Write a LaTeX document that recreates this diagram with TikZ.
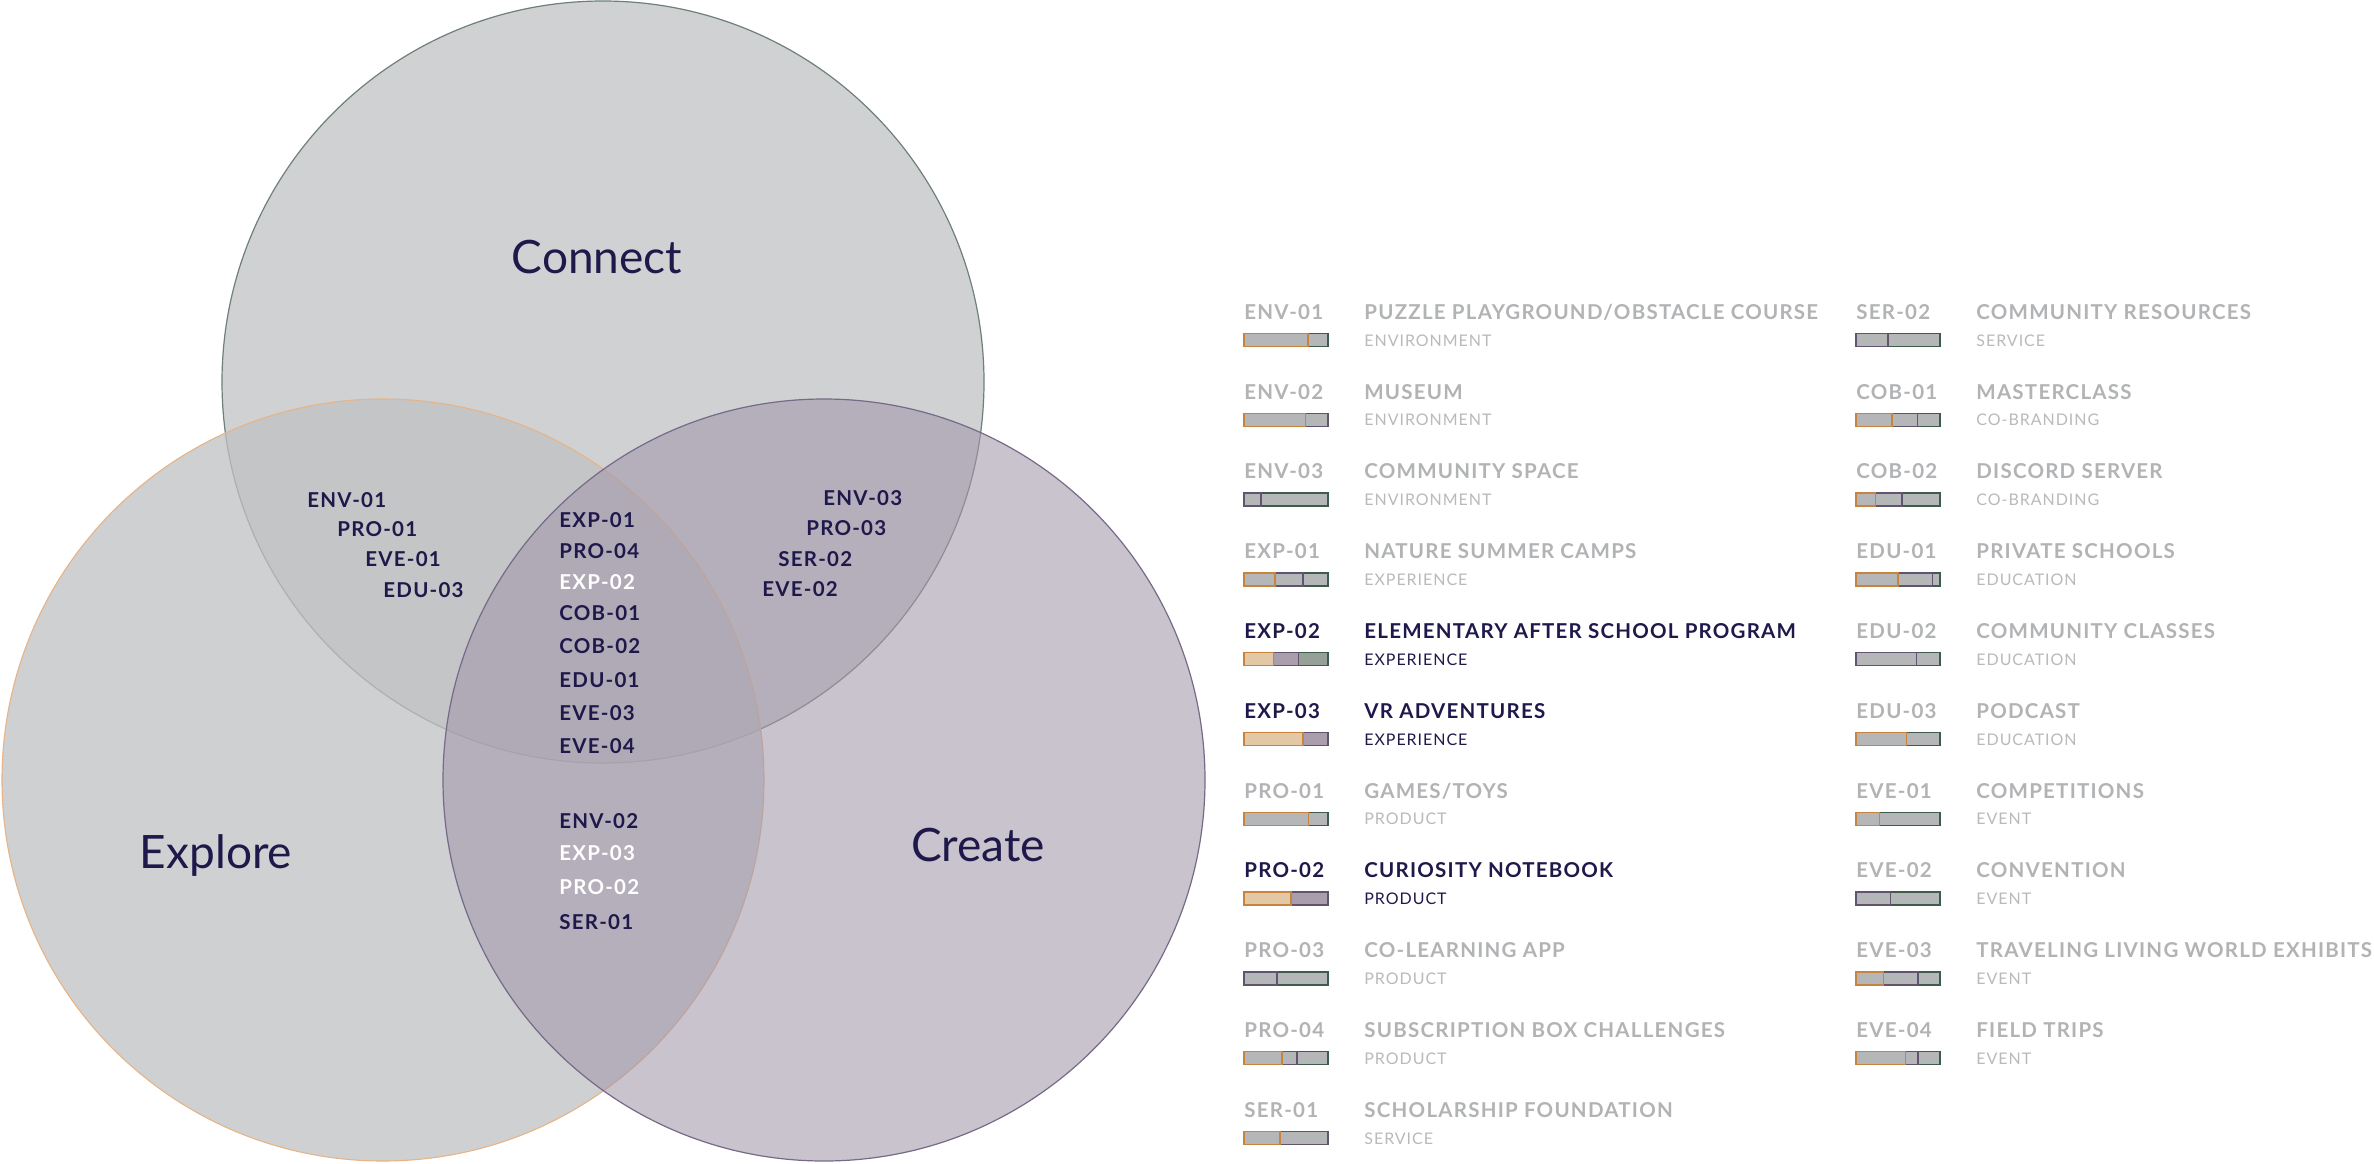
\documentclass[tikz,border=0pt]{standalone}
\usepackage{fontspec}
\setmainfont{Lato}
\newfontfamily\codefont[LetterSpace=6]{Lato}
\newfontfamily\catfont[LetterSpace=6]{Lato}
\newfontfamily\titlefont{Lato}

\definecolor{navy}{RGB}{30,25,74}
\definecolor{lgrey}{RGB}{178,179,181}
\definecolor{cgrey}{RGB}{186,186,188}
\definecolor{connfill}{RGB}{208,209,211}
\definecolor{connline}{RGB}{110,128,120}
\definecolor{explfill}{RGB}{192,193,196}
\definecolor{explline}{RGB}{230,180,134}
\definecolor{creafill}{RGB}{162,152,170}
\definecolor{crealine}{RGB}{118,106,136}
\definecolor{barfill}{RGB}{181,182,184}
\definecolor{barE}{RGB}{200,132,60}
\definecolor{barC}{RGB}{96,84,110}
\definecolor{barN}{RGB}{62,92,76}
\definecolor{hlE}{RGB}{227,200,166}
\definecolor{hlC}{RGB}{170,158,172}
\definecolor{hlN}{RGB}{150,160,152}

% bar: #1 x, #2 y centre, #3 end of orange part, #4 end of purple part, #5 n/h
\newcommand\lbar[5]{%
  \ifdim #4pt<1pt \draw[segN#5] ({#1+84*#4},{#2-6.5}) rectangle ({#1+84},{#2+6.5}); \fi
  \ifdim #4pt>#3pt \draw[segC#5] ({#1+84*#3},{#2-6.5}) rectangle ({#1+84*#4},{#2+6.5}); \fi
  \ifdim #3pt>0pt \draw[segE#5] ({#1},{#2-6.5}) rectangle ({#1+84*#3},{#2+6.5}); \fi
}
% legend row: #1 x, #2 y, #3 code, #4 name, #5 category, #6 a, #7 b, #8 n/h
\newcommand\legrow[8]{%
  \node[codeT#8] (L-#3) at ({#1},{#2+7.3}) {#3};
  \node[codeT#8] (N-#3) at ({#1+120},{#2+7.3}) {#4};
  \node[catT#8] (K-#3) at ({#1+120},{#2+28+6}) {#5};
  \lbar{#1}{#2+28}{#6}{#7}{#8}
}

\begin{document}
\begin{tikzpicture}[x=0.5pt,y=-0.5pt,
  codeTn/.style={anchor=base west, inner sep=0pt, font=\codefont\bfseries\fontsize{10.25}{12}\selectfont, text=lgrey},
  codeTh/.style={codeTn, text=navy},
  catTn/.style={anchor=base west, inner sep=0pt, font=\catfont\fontsize{8}{10}\selectfont, text=cgrey},
  catTh/.style={catTn, text=navy},
  vlab/.style={anchor=base west, inner sep=0pt, font=\codefont\bfseries\fontsize{10.25}{12}\selectfont, text=navy},
  vlabw/.style={vlab, text=white},
  ttl/.style={inner sep=0pt, font=\titlefont\fontsize{23}{26}\selectfont, text=navy},
  segEn/.style={fill=barfill, draw=barE, line width=0.75pt},
  segCn/.style={fill=barfill, draw=barC, line width=0.75pt},
  segNn/.style={fill=barfill, draw=barN, line width=0.75pt},
  segEh/.style={fill=hlE, draw=barE, line width=0.75pt},
  segCh/.style={fill=hlC, draw=barC, line width=0.75pt},
  segNh/.style={fill=hlN, draw=barN, line width=0.75pt},
]
\useasboundingbox (0,0) rectangle (2374,1163);
\fill[white] (0,0) rectangle (2374,1163);

% circles
\draw[fill=connfill, draw=connline, line width=0.6pt] (603,382) circle[radius=381];
\draw[fill=explfill, fill opacity=0.75, draw=explline, line width=0.55pt] (383,780) circle[radius=381];
\draw[fill=creafill, fill opacity=0.58, draw=crealine, line width=0.6pt] (824,780) circle[radius=381];

% titles
\node[ttl] (tConnect) at (597,257) {Connect};
\node[ttl] (tExplore) at (216,855) {Explore};
\node[ttl] (tCreate) at (978,845) {Create};

% Venn labels: connect & explore
\node[vlab] (V-ENV-01) at (307,507.3) {ENV-01};
\node[vlab] (V-PRO-01) at (337,536.3) {PRO-01};
\node[vlab] (V-EVE-01) at (365,566.3) {EVE-01};
\node[vlab] (V-EDU-03) at (383,597.3) {EDU-03};
% centre
\node[vlab] (V-EXP-01) at (559,527.3) {EXP-01};
\node[vlab] (V-PRO-04) at (559,558.3) {PRO-04};
\node[vlabw] (V-EXP-02) at (559,589.3) {EXP-02};
\node[vlab] (V-COB-01) at (559,620.3) {COB-01};
\node[vlab] (V-COB-02) at (559,653.3) {COB-02};
\node[vlab] (V-EDU-01) at (559,687.3) {EDU-01};
\node[vlab] (V-EVE-03) at (559,720.3) {EVE-03};
\node[vlab] (V-EVE-04) at (559,753.3) {EVE-04};
% connect & create
\node[vlab] (V-ENV-03) at (823,505.3) {ENV-03};
\node[vlab] (V-PRO-03) at (806,535.3) {PRO-03};
\node[vlab] (V-SER-02) at (778,566.3) {SER-02};
\node[vlab] (V-EVE-02) at (762,596.3) {EVE-02};
% explore & create
\node[vlab] (V-ENV-02) at (559,828.3) {ENV-02};
\node[vlabw] (V-EXP-03) at (559,860.3) {EXP-03};
\node[vlabw] (V-PRO-02) at (559,894.3) {PRO-02};
\node[vlab] (V-SER-01) at (559,929.3) {SER-01};

% legend column 1
\legrow{1244}{312}{ENV-01}{PUZZLE PLAYGROUND/OBSTACLE COURSE}{ENVIRONMENT}{.76}{.76}{n}
\legrow{1244}{391.8}{ENV-02}{MUSEUM}{ENVIRONMENT}{.73}{1}{n}
\legrow{1244}{471.6}{ENV-03}{COMMUNITY SPACE}{ENVIRONMENT}{0}{.2}{n}
\legrow{1244}{551.4}{EXP-01}{NATURE SUMMER CAMPS}{EXPERIENCE}{.37}{.70}{n}
\legrow{1244}{631.2}{EXP-02}{ELEMENTARY AFTER SCHOOL PROGRAM}{EXPERIENCE}{.35}{.65}{h}
\legrow{1244}{711}{EXP-03}{VR ADVENTURES}{EXPERIENCE}{.70}{1}{h}
\legrow{1244}{790.8}{PRO-01}{GAMES/TOYS}{PRODUCT}{.77}{.77}{n}
\legrow{1244}{870.6}{PRO-02}{CURIOSITY NOTEBOOK}{PRODUCT}{.56}{1}{h}
\legrow{1244}{950.4}{PRO-03}{CO-LEARNING APP}{PRODUCT}{0}{.39}{n}
\legrow{1244}{1030.2}{PRO-04}{SUBSCRIPTION BOX CHALLENGES}{PRODUCT}{.45}{.63}{n}
\legrow{1244}{1110}{SER-01}{SCHOLARSHIP FOUNDATION}{SERVICE}{.43}{1}{n}

% legend column 2
\legrow{1856}{312}{SER-02}{COMMUNITY RESOURCES}{SERVICE}{0}{.38}{n}
\legrow{1856}{391.8}{COB-01}{MASTERCLASS}{CO-BRANDING}{.43}{.73}{n}
\legrow{1856}{471.6}{COB-02}{DISCORD SERVER}{CO-BRANDING}{.23}{.55}{n}
\legrow{1856}{551.4}{EDU-01}{PRIVATE SCHOOLS}{EDUCATION}{.50}{.91}{n}
\legrow{1856}{631.2}{EDU-02}{COMMUNITY CLASSES}{EDUCATION}{0}{.72}{n}
\legrow{1856}{711}{EDU-03}{PODCAST}{EDUCATION}{.60}{.60}{n}
\legrow{1856}{790.8}{EVE-01}{COMPETITIONS}{EVENT}{.28}{.28}{n}
\legrow{1856}{870.6}{EVE-02}{CONVENTION}{EVENT}{0}{.41}{n}
\legrow{1856}{950.4}{EVE-03}{TRAVELING LIVING WORLD EXHIBITS}{EVENT}{.33}{.74}{n}
\legrow{1856}{1030.2}{EVE-04}{FIELD TRIPS}{EVENT}{.59}{.74}{n}
\end{tikzpicture}
\end{document}
